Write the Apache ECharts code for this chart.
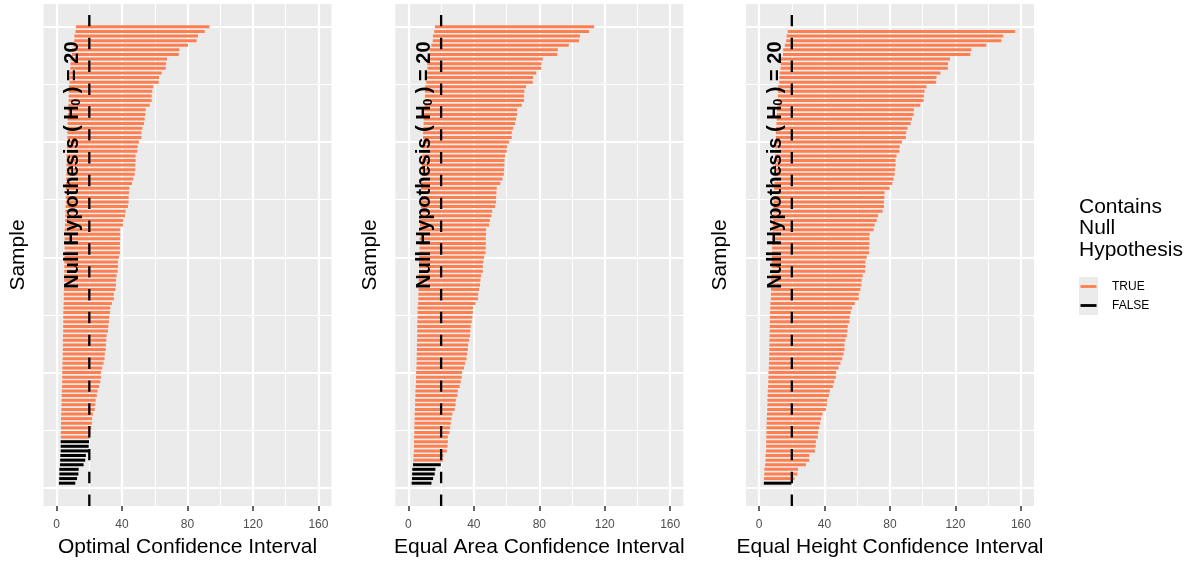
<!DOCTYPE html>
<html><head><meta charset="utf-8">
<script src="https://cdn.jsdelivr.net/npm/echarts@6/dist/echarts.min.js"></script>
<style>html,body{margin:0;padding:0;background:#fff}#c{width:1195px;height:563px}</style>
</head><body><div id="c"></div>
<script>
// ---------------- data ----------------
const NULL_VALUE = 20;
const X_TICKS = [0, 40, 80, 120, 160];
const X_MINOR = [20, 60, 100, 140];
const Y_MAJOR = [0, 25, 50, 75, 100];
const Y_MINOR = [12.5, 37.5, 62.5, 87.5];
const PANEL_TITLES = ['Optimal Confidence Interval', 'Equal Area Confidence Interval', 'Equal Height Confidence Interval'];
const SAMPLE_LABEL = 'Sample';
const LEGEND_TITLE = 'Contains\nNull\nHypothesis';
const LEGEND_LABELS = ['TRUE', 'FALSE'];
const ANNOTATION_Y = 70;
// intervals listed from the top row (sample rank 100) down to rank 1
const optimalUpper = [
93.4, 90.5, 86.4, 85.6, 80.3, 75.0, 74.6, 67.5, 66.9, 66.7,
64.2, 62.6, 62.4, 59.1, 58.5, 58.1, 58.1, 56.9, 54.4, 54.2,
53.8, 53.4, 52.4, 51.8, 51.8, 50.3, 49.5, 49.3, 48.3, 48.3,
48.1, 48.1, 47.7, 46.9, 46.1, 44.4, 44.2, 44.0, 44.0, 43.6,
42.2, 41.8, 40.7, 40.6, 38.9, 38.9, 38.9, 38.7, 38.7, 38.7,
38.1, 37.5, 37.5, 37.3, 36.7, 36.3, 36.3, 35.9, 35.0, 35.0,
33.8, 32.8, 32.6, 32.2, 32.0, 31.6, 31.4, 30.6, 30.4, 30.2,
30.0, 29.5, 29.3, 28.7, 27.9, 27.1, 27.1, 26.7, 25.9, 25.0,
24.6, 23.9, 23.6, 23.3, 22.2, 21.7, 21.5, 21.2, 20.7, 20.3,
19.8, 19.6, 19.6, 17.9, 17.5, 16.5, 13.5, 13.3, 12.5, 11.4];
const optimalLower = [
11.8, 11.5, 10.9, 10.8, 10.2, 9.5, 9.4, 8.5, 8.5, 8.4,
8.1, 7.9, 7.9, 7.5, 7.4, 7.4, 7.4, 7.2, 6.9, 6.9,
6.8, 6.8, 6.6, 6.6, 6.6, 6.4, 6.3, 6.2, 6.1, 6.1,
6.1, 6.1, 6.0, 5.9, 5.8, 5.6, 5.6, 5.6, 5.6, 5.5,
5.3, 5.3, 5.2, 5.1, 4.9, 4.9, 4.9, 4.9, 4.9, 4.9,
4.8, 4.7, 4.7, 4.7, 4.6, 4.6, 4.6, 4.5, 4.4, 4.4,
4.3, 4.2, 4.1, 4.1, 4.1, 4.0, 4.0, 3.9, 3.8, 3.8,
3.8, 3.7, 3.7, 3.6, 3.5, 3.4, 3.4, 3.4, 3.3, 3.2,
3.1, 3.0, 3.0, 2.9, 2.8, 2.7, 2.7, 2.7, 2.6, 2.6,
2.5, 2.5, 2.5, 2.3, 2.2, 2.1, 1.7, 1.7, 1.6, 1.4];
const areaUpper = [
113.5, 110.4, 104.9, 104.3, 98.0, 91.3, 90.9, 82.1, 81.3, 81.1,
78.1, 76.2, 76.0, 71.9, 70.9, 70.7, 70.7, 69.3, 66.4, 66.4,
65.8, 65.2, 64.0, 63.2, 63.2, 61.6, 60.3, 60.1, 59.1, 58.7,
58.7, 58.5, 58.3, 57.5, 56.2, 54.0, 53.8, 53.6, 53.6, 53.0,
51.2, 50.7, 49.8, 49.3, 47.5, 47.5, 47.3, 47.3, 47.3, 47.1,
46.3, 45.7, 45.5, 45.5, 44.4, 44.0, 43.8, 43.2, 42.6, 42.6,
41.0, 39.5, 39.4, 39.1, 38.7, 38.1, 37.9, 37.7, 37.1, 36.5,
36.3, 35.9, 35.5, 34.7, 34.0, 32.8, 32.6, 32.0, 31.4, 30.2,
30.0, 29.0, 28.8, 28.3, 26.9, 26.3, 25.9, 25.5, 25.1, 24.1,
24.1, 23.9, 23.5, 21.4, 21.0, 19.8, 16.5, 16.1, 15.1, 14.1];
const areaLower = [
16.2, 15.8, 15.0, 14.9, 14.0, 13.0, 13.0, 11.7, 11.6, 11.6,
11.2, 10.9, 10.9, 10.3, 10.1, 10.1, 10.1, 9.9, 9.5, 9.5,
9.4, 9.3, 9.1, 9.0, 9.0, 8.8, 8.6, 8.6, 8.4, 8.4,
8.4, 8.4, 8.3, 8.2, 8.0, 7.7, 7.7, 7.7, 7.7, 7.6,
7.3, 7.2, 7.1, 7.0, 6.8, 6.8, 6.8, 6.8, 6.8, 6.7,
6.6, 6.5, 6.5, 6.5, 6.3, 6.3, 6.3, 6.2, 6.1, 6.1,
5.9, 5.6, 5.6, 5.6, 5.5, 5.4, 5.4, 5.4, 5.3, 5.2,
5.2, 5.1, 5.1, 5.0, 4.9, 4.7, 4.7, 4.6, 4.5, 4.3,
4.3, 4.1, 4.1, 4.0, 3.8, 3.8, 3.7, 3.6, 3.6, 3.4,
3.4, 3.4, 3.4, 3.1, 3.0, 2.8, 2.4, 2.3, 2.2, 2.0];
// top interval of the equal-height set lies beyond the 0-160 scale and is dropped
const heightUpper = [
null, 156.5, 149.2, 148.0, 138.9, 129.7, 129.1, 116.7, 115.5, 115.3,
110.8, 108.4, 108.2, 102.3, 101.1, 100.7, 100.5, 98.5, 94.6, 94.4,
93.4, 92.6, 90.7, 89.9, 89.7, 87.3, 85.9, 85.7, 84.0, 83.4,
83.4, 83.0, 82.8, 82.2, 81.4, 79.8, 76.7, 76.6, 76.3, 76.3,
75.5, 72.7, 71.9, 70.6, 70.0, 67.6, 67.4, 67.4, 67.2, 67.2,
65.8, 65.0, 65.0, 64.8, 63.3, 62.7, 62.5, 61.9, 60.9, 60.9,
58.5, 56.8, 56.0, 55.4, 55.2, 54.2, 54.0, 53.6, 52.6, 52.2,
52.2, 51.6, 50.8, 49.7, 48.5, 47.1, 46.9, 45.9, 45.1, 43.2,
42.7, 41.6, 41.4, 40.8, 38.8, 37.9, 37.3, 36.6, 36.1, 35.9,
34.7, 34.6, 34.1, 30.6, 30.6, 28.6, 23.8, 23.4, 21.6, 19.7];
const heightLower = [
null, 17.5, 16.8, 16.6, 15.7, 14.7, 14.6, 13.3, 13.1, 13.1,
12.6, 12.4, 12.3, 11.7, 11.6, 11.5, 11.5, 11.3, 10.9, 10.9,
10.7, 10.6, 10.4, 10.3, 10.3, 10.1, 9.9, 9.9, 9.7, 9.6,
9.6, 9.6, 9.6, 9.5, 9.4, 9.2, 8.9, 8.9, 8.9, 8.9,
8.8, 8.5, 8.4, 8.3, 8.2, 7.9, 7.9, 7.9, 7.9, 7.9,
7.8, 7.7, 7.7, 7.7, 7.5, 7.4, 7.4, 7.3, 7.2, 7.2,
6.9, 6.8, 6.7, 6.6, 6.6, 6.5, 6.5, 6.4, 6.3, 6.3,
6.3, 6.2, 6.1, 6.0, 5.9, 5.7, 5.7, 5.6, 5.5, 5.3,
5.2, 5.1, 5.1, 5.0, 4.8, 4.7, 4.6, 4.5, 4.5, 4.4,
4.3, 4.3, 4.2, 3.9, 3.9, 3.7, 3.2, 3.2, 3.0, 2.9];

// ---------------- layout / style ----------------
const FONT = '"Liberation Sans", Arial, Helvetica, sans-serif';
const TRUE_COLOR = '#FF7F50';
const FALSE_COLOR = '#000000';
const PANEL_BG = '#EBEBEB';
const X_MIN = -8, X_MAX = 168;           // 0..160 with 5% expansion
const Y_MIN = -3.95, Y_MAX = 104.95;     // 1..100 with 5% expansion
const GRID_LEFT = [43.5, 395.3, 746];
const GRID_TOP = 4, GRID_W = 288, GRID_H = 502;
const BAR_W = 3;

const panels = [
  {title: PANEL_TITLES[0], lower: optimalLower, upper: optimalUpper},
  {title: PANEL_TITLES[1], lower: areaLower, upper: areaUpper},
  {title: PANEL_TITLES[2], lower: heightLower, upper: heightUpper}
];
const nRows = optimalUpper.length;
const sampleRank = optimalUpper.map((_, i) => nRows - i);

const grids = [], xAxes = [], yAxes = [], series = [];
panels.forEach((p, k) => {
  grids.push({left: GRID_LEFT[k], top: GRID_TOP, width: GRID_W, height: GRID_H,
    show: true, backgroundColor: PANEL_BG, borderWidth: 0, containLabel: false, outerBoundsMode: 'none'});
  xAxes.push({type: 'value', gridIndex: k, min: X_MIN, max: X_MAX,
    name: p.title, nameLocation: 'middle', nameGap: 30.5,
    nameTextStyle: {fontSize: 21, color: '#000', fontFamily: FONT},
    axisLine: {show: false, onZero: false},
    axisTick: {show: true, customValues: X_TICKS, length: 5, lineStyle: {color: '#333333', width: 1.5}},
    axisLabel: {show: true, customValues: X_TICKS, margin: 13, fontSize: 12, color: '#4D4D4D', fontFamily: FONT},
    splitLine: {show: false}, minorSplitLine: {show: false}});
  yAxes.push({type: 'value', gridIndex: k, min: Y_MIN, max: Y_MAX,
    name: SAMPLE_LABEL, nameLocation: 'middle', nameGap: 15,
    nameTextStyle: {fontSize: 21, color: '#000', fontFamily: FONT},
    axisLine: {show: false, onZero: false}, axisTick: {show: false}, axisLabel: {show: false},
    splitLine: {show: false}});

  const gl = [];
  X_TICKS.forEach(v => gl.push({xAxis: v, lineStyle: {width: 2.2}}));
  X_MINOR.forEach(v => gl.push({xAxis: v, lineStyle: {width: 1.1}}));
  Y_MAJOR.forEach(v => gl.push({yAxis: v, lineStyle: {width: 2.2}}));
  Y_MINOR.forEach(v => gl.push({yAxis: v, lineStyle: {width: 1.1}}));
  series.push({type: 'line', xAxisIndex: k, yAxisIndex: k, data: [], z: 1, silent: true,
    markLine: {z: 1, zlevel: 0, silent: true, symbol: ['none', 'none'], label: {show: false}, animation: false,
      lineStyle: {color: '#FFFFFF', type: 'solid'}, emphasis: {disabled: true}, data: gl}});

  const rows = [];
  p.upper.forEach((hi, i) => { if (hi != null) rows.push([sampleRank[i], p.lower[i], hi]); });
  series.push({type: 'custom', xAxisIndex: k, yAxisIndex: k, z: 3, silent: true,
    encode: {x: [1, 2], y: 0}, data: rows,
    renderItem: (params, api) => {
      const y = api.value(0), lo = api.value(1), hi = api.value(2);
      const a = api.coord([lo, y]), b = api.coord([hi, y]);
      const contains = lo <= NULL_VALUE && hi >= NULL_VALUE;
      return {type: 'line', shape: {x1: a[0], y1: a[1], x2: b[0], y2: b[1]},
        style: {stroke: contains ? TRUE_COLOR : FALSE_COLOR, lineWidth: BAR_W, lineCap: 'butt'}};
    }});

  series.push({type: 'custom', xAxisIndex: k, yAxisIndex: k, z: 6, silent: true,
    encode: {x: 0, y: 1}, data: [[NULL_VALUE, ANNOTATION_Y]],
    renderItem: (params, api) => {
      const x = api.value(0), yl = api.value(1);
      const bot = api.coord([x, Y_MIN]), top = api.coord([x, Y_MAX]);
      const c = api.coord([x, yl]);
      return {type: 'group', children: [
        {type: 'line', shape: {x1: bot[0], y1: bot[1], x2: top[0], y2: top[1]},
          style: {stroke: '#000', lineWidth: 2.3, lineDash: [11.42, 11.42], lineCap: 'butt'}},
        {type: 'text', x: c[0] - 16.7, y: c[1], rotation: Math.PI / 2, z2: 10,
          style: {text: '{a|Null Hypothesis ( H}{s|0}{a| ) = ' + NULL_VALUE + '}',
            align: 'center', verticalAlign: 'middle', fill: '#000',
            rich: {a: {fontSize: 20, fontWeight: 'bold', fontFamily: FONT, fill: '#000', lineHeight: 20},
                   s: {fontSize: 12, fontWeight: 'bold', fontFamily: FONT, fill: '#000', lineHeight: 8, verticalAlign: 'bottom'}}}}
      ]};
    }});
});

const LX = 1079;
const graphic = [
  {type: 'text', left: LX, top: 196, style: {text: LEGEND_TITLE, fontSize: 21, lineHeight: 21.5, fill: '#000', fontFamily: FONT}},
  {type: 'rect', shape: {x: LX, y: 277, width: 19, height: 38}, style: {fill: PANEL_BG}},
  {type: 'line', shape: {x1: LX + 1.5, y1: 286.5, x2: LX + 17.5, y2: 286.5}, style: {stroke: TRUE_COLOR, lineWidth: 2.8}},
  {type: 'line', shape: {x1: LX + 1.5, y1: 305.5, x2: LX + 17.5, y2: 305.5}, style: {stroke: FALSE_COLOR, lineWidth: 2.8}},
  {type: 'text', x: 1112, y: 286.5, style: {text: LEGEND_LABELS[0], fontSize: 12, fill: '#000', fontFamily: FONT, verticalAlign: 'middle'}},
  {type: 'text', x: 1112, y: 305.5, style: {text: LEGEND_LABELS[1], fontSize: 12, fill: '#000', fontFamily: FONT, verticalAlign: 'middle'}}
];

const chart = echarts.init(document.getElementById('c'), null, {renderer: 'canvas'});
chart.setOption({
  animation: false,
  backgroundColor: '#FFFFFF',
  textStyle: {fontFamily: FONT},
  grid: grids, xAxis: xAxes, yAxis: yAxes, series: series, graphic: graphic
});
</script></body></html>
